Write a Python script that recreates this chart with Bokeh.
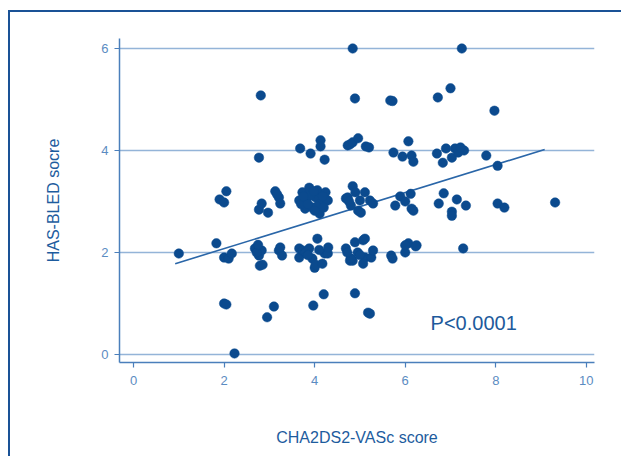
from bokeh.plotting import figure
from bokeh.models import Range1d, FixedTicker, Label
from bokeh.embed import file_html
from bokeh.resources import INLINE

# CHA2DS2-VASc score (x) and HAS-BLED score (y)
x_vals = [
    4.84, 7.25,
    2.81, 4.89, 5.67, 5.72, 6.72, 7.00, 7.97,
    2.77, 3.68, 3.91, 4.13, 4.13, 4.22, 4.73, 4.78, 4.84, 4.96, 5.13, 5.20,
    5.74, 5.94, 6.07, 6.14, 6.18, 6.70, 6.83, 6.90, 7.03, 7.10, 7.17, 7.30,
    7.22, 7.79, 8.04,
    1.90, 2.00, 2.05, 2.77, 2.83, 2.97, 3.13, 3.21, 3.24, 3.17,
    3.66, 3.73, 3.79, 3.88, 3.95, 4.02, 4.06, 4.11, 4.13, 4.24, 4.29,
    3.70, 3.82, 3.90, 3.98, 4.05, 4.18, 3.85, 4.00, 4.20, 3.75,
    4.69, 4.73, 4.84, 4.80, 4.96, 5.00, 5.02, 5.11, 5.22, 5.29, 4.76, 4.90,
    5.78, 5.89, 6.12, 6.14, 6.18, 6.00,
    6.74, 6.85, 7.03, 7.14, 7.34, 7.03,
    8.04, 8.19, 9.31,
    1.00, 1.83, 2.00, 2.10, 2.17,
    2.68, 2.77, 2.83, 2.79, 2.72, 2.75, 2.85,
    3.21, 3.28, 3.24,
    3.66, 3.66, 3.73, 3.79, 3.88, 3.95, 4.06, 4.00, 4.02, 4.17, 4.22, 4.29,
    3.85, 4.10, 4.30,
    4.69, 4.78, 4.84, 4.89, 4.80, 5.07, 5.11, 5.11, 5.07, 5.25, 5.29, 4.72,
    4.95, 5.00,
    5.69, 5.72, 6.00, 6.07, 6.00, 6.25, 6.23,
    7.28,
    2.00, 2.05, 2.95, 3.10, 3.97, 4.20, 4.89, 5.18, 5.22,
    2.23,
]
y_vals = [
    6.00, 6.00,
    5.08, 5.02, 4.98, 4.97, 5.04, 5.22, 4.78,
    3.86, 4.04, 3.94, 4.20, 4.08, 3.82, 4.10, 4.12, 4.16, 4.24, 4.08, 4.06,
    3.96, 3.88, 4.18, 3.90, 3.78, 3.94, 3.76, 4.04, 3.86, 4.04, 3.96, 4.00,
    4.06, 3.90, 3.70,
    3.04, 2.98, 3.20, 2.84, 2.96, 2.78, 3.20, 3.08, 2.96, 3.14,
    3.02, 3.18, 2.86, 3.27, 2.88, 3.08, 3.22, 2.76, 2.96, 3.18, 3.02,
    2.95, 3.05, 3.12, 3.20, 2.90, 3.10, 2.95, 2.82, 2.88, 3.10,
    3.06, 3.08, 3.30, 2.92, 2.82, 3.02, 2.78, 3.18, 3.02, 2.96, 3.00, 3.18,
    2.92, 3.10, 3.15, 2.86, 2.82, 3.00,
    2.96, 3.16, 2.80, 3.04, 2.92, 2.72,
    2.96, 2.88, 2.98,
    1.98, 2.18, 1.90, 1.88, 1.98,
    2.08, 1.94, 2.04, 1.74, 2.00, 2.15, 1.76,
    2.04, 1.94, 2.10,
    2.08, 1.90, 2.04, 2.00, 2.08, 1.88, 2.27, 1.70, 1.76, 1.78, 1.98, 1.98,
    1.95, 2.05, 2.10,
    2.08, 1.84, 1.84, 2.20, 1.88, 2.24, 2.27, 1.90, 1.78, 1.90, 2.04, 2.00,
    2.00, 1.95,
    1.94, 1.88, 2.00, 2.18, 2.14, 2.14, 2.12,
    2.08,
    1.00, 0.98, 0.73, 0.94, 0.96, 1.18, 1.20, 0.82, 0.80,
    0.02,
]

# fitted line end points
fit_x = [0.92, 9.08]
fit_y = [1.78, 4.02]

x_ticks = [0, 2, 4, 6, 8, 10]
y_ticks = [0, 2, 4, 6]
p_text = "P<0.0001"

DARK = "#0b4a8e"
MID = "#2a66a8"
LIGHT = "#5b8cc2"
FONT = "Liberation Sans"

p = figure(width=613, height=446, output_backend="svg", toolbar_location=None,
           x_range=Range1d(-0.31, 10.18), y_range=Range1d(-0.157, 6.196),
           min_border_left=109, min_border_right=29, min_border_top=26,
           min_border_bottom=96, background_fill_color="white",
           border_fill_color="white", outline_line_color=None)
p.margin = (10, 0, 0, 8)
p.styles = {"border-left": "2px solid #1a5296", "border-top": "2px solid #1a5296"}

p.xgrid.visible = False
p.ygrid.ticker = FixedTicker(ticks=y_ticks)
p.ygrid.grid_line_color = "#94b4d8"
p.ygrid.grid_line_width = 1.5

for ax in (p.xaxis[0], p.yaxis[0]):
    ax.axis_line_color = "#4a7fbb"
    ax.axis_line_width = 1.5
    ax.major_tick_line_color = "#4a7fbb"
    ax.major_tick_line_width = 1.2
    ax.major_tick_in = 0
    ax.major_tick_out = 5
    ax.minor_tick_line_color = None
    ax.major_label_text_color = LIGHT
    ax.major_label_text_font = FONT
    ax.major_label_text_font_size = "13px"
    ax.axis_label_text_color = "#1d5c9e"
    ax.axis_label_text_font = FONT
    ax.axis_label_text_font_size = "16px"
    ax.axis_label_text_font_style = "normal"

p.xaxis.ticker = FixedTicker(ticks=x_ticks)
p.yaxis.ticker = FixedTicker(ticks=y_ticks)
p.xaxis.axis_label = "CHA2DS2-VASc score"
p.yaxis.axis_label = "HAS-BLED socre"
p.xaxis.major_label_standoff = 8
p.yaxis.major_label_standoff = 6
p.xaxis.axis_label_standoff = 41
p.yaxis.axis_label_standoff = 36

p.line(fit_x, fit_y, line_color=MID, line_width=1.6)
p.scatter(x_vals, y_vals, size=9.5, fill_color=DARK, line_color=DARK, line_width=0.5)

p.add_layout(Label(x=6.56, y=0.61, text=p_text, text_font=FONT, text_font_size="20px",
                   text_color="#1d5a9c", text_baseline="middle"))

open("out.html", "w").write(file_html(p, INLINE))
